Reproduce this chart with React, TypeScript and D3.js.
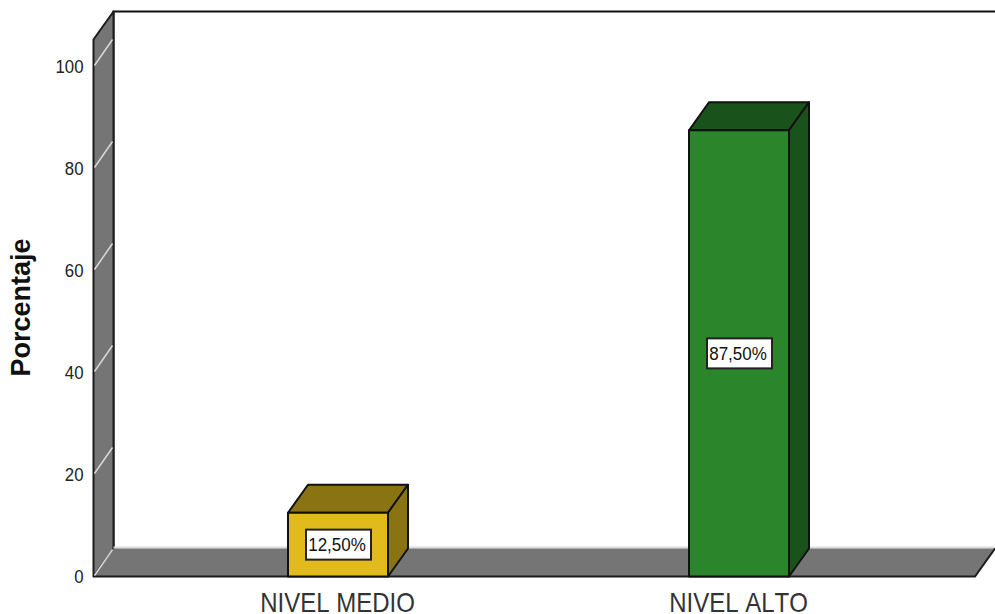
import React from "react";
import * as d3 from "d3";

const categories = ["NIVEL MEDIO", "NIVEL ALTO"];
const percentages = [12.5, 87.5];
const valueLabels = ["12,50%", "87,50%"];
const frontColors = ["#e0bb1b", "#2a852b"];
const sideColors = ["#8a7412", "#1a521b"];
const yTicks = [0, 20, 40, 60, 80, 100];

const W = 995;
const H = 614;
const DX = 20;
const DY = -28;
const FONT = "'Liberation Sans', Arial, sans-serif";

const y = d3.scaleLinear().domain([0, 100]).range([576.5, 66.5]);
const poly = (pts: number[][]) => (d3.line()(pts as [number, number][]) ?? "") + "Z";

export default function App() {
  const y0 = y(0);
  const wallLeft = 93.5;
  const floorRight = 975;
  const yTop = y(105.3);
  const barW = 100;
  const barLeft = (i: number) => [288, 689][i];

  return (
    <svg width={W} height={H} viewBox={`0 0 ${W} ${H}`} style={{ position: "absolute", left: 0, top: 0, background: "#fff" }}>
      {/* plot back panel */}
      <path d={`M${wallLeft + DX},${y0 + DY}V${yTop + DY}H${W}`} fill="none" stroke="#111" strokeWidth={2} />

      {/* side wall */}
      <path d={poly([[wallLeft, y0], [wallLeft, yTop], [wallLeft + DX, yTop + DY], [wallLeft + DX, y0 + DY]])} fill="#757575" stroke="#1c1c1c" strokeWidth={2} strokeLinejoin="round" />

      {/* floor */}
      <line x1={wallLeft + DX} x2={W} y1={y0 + DY - 1} y2={y0 + DY - 1} stroke="#dcdcdc" strokeWidth={2} />
      <path d={poly([[wallLeft, y0], [wallLeft + DX, y0 + DY], [floorRight + DX, y0 + DY], [floorRight, y0]])} fill="#757575" />
      <path d={`M${wallLeft},${y0}H${floorRight}L${floorRight + DX},${y0 + DY}`} fill="none" stroke="#1c1c1c" strokeWidth={2} />

      {/* gridlines where they cross the wall */}
      {yTicks.map((t) => (
        <line key={t} x1={wallLeft + 1} y1={y(t) - 1} x2={wallLeft + DX - 1} y2={y(t) + DY + 1} stroke="#d9d9d9" strokeWidth={1.5} />
      ))}

      {/* y axis labels */}
      {yTicks.map((t) => (
        <text key={t} transform={`translate(83.5,${y(t) + 6}) scale(1,1.1)`} textAnchor="end" fontFamily={FONT} fontSize={16.8} fill="#222">
          {t}
        </text>
      ))}
      <text transform="translate(29.5,307.5) rotate(-90)" textAnchor="middle" fontFamily={FONT} fontSize={27} fontWeight={700} fill="#111">
        Porcentaje
      </text>

      {/* bars */}
      {categories.map((c, i) => {
        const l = barLeft(i);
        const r = l + barW;
        const t = y(percentages[i]);
        return (
          <g key={c} stroke="#111" strokeWidth={2} strokeLinejoin="round">
            <path d={poly([[l, t], [l + DX, t + DY], [r + DX, t + DY], [r, t]])} fill={sideColors[i]} />
            <path d={poly([[r, t], [r + DX, t + DY], [r + DX, y0 + DY], [r, y0]])} fill={sideColors[i]} />
            <rect x={l} y={t} width={barW} height={y0 - t} fill={frontColors[i]} />
          </g>
        );
      })}

      {/* value boxes */}
      {categories.map((c, i) => {
        const cx = barLeft(i) + barW / 2;
        const cy = (y(percentages[i]) + y0) / 2;
        return (
          <g key={c}>
            <rect x={cx - 32} y={cy - 15} width={65} height={30} fill="#fff" stroke="#222" strokeWidth={2} />
            <text transform={`translate(${cx - 1},${cy + 6.5}) scale(1,1.1)`} textAnchor="middle" fontFamily={FONT} fontSize={17} fill="#111">
              {valueLabels[i]}
            </text>
          </g>
        );
      })}

      {/* category labels */}
      {categories.map((c, i) => (
        <text key={c} transform={`translate(${barLeft(i) + barW / 2 - 0.5},612) scale(1,1.13)`} textAnchor="middle" fontFamily={FONT} fontSize={24} fill="#333" style={{ fontKerning: "none" }}>
          {c}
        </text>
      ))}
    </svg>
  );
}
